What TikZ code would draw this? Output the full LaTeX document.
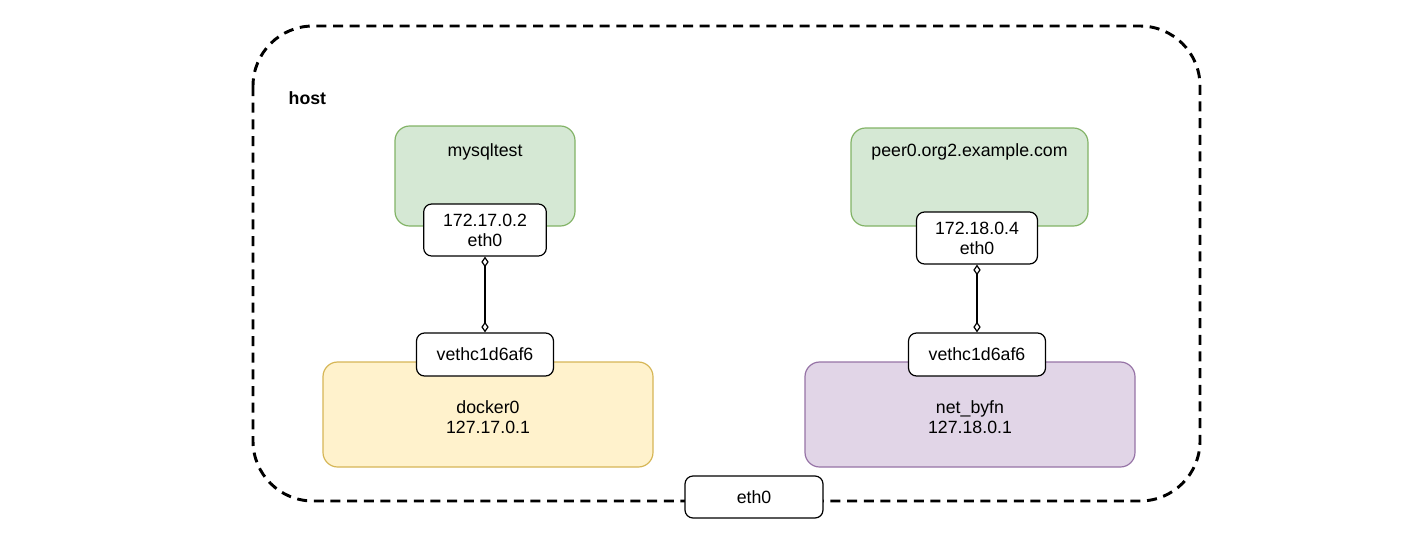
\documentclass[tikz,border=0pt]{standalone}
\usepackage{fontspec}
\setmainfont{Liberation Sans}
\usetikzlibrary{arrows.meta,positioning}
\definecolor{ctgreen}{HTML}{D5E8D4}
\definecolor{ctgreenline}{HTML}{82B366}
\definecolor{brgyellow}{HTML}{FFF2CC}
\definecolor{brgyellowline}{HTML}{D6B656}
\definecolor{brgpurple}{HTML}{E1D5E7}
\definecolor{brgpurpleline}{HTML}{9673A6}
\tikzset{
  container/.style={draw=ctgreenline, fill=ctgreen, rounded corners=11pt, line width=0.9pt},
  bridge/.style={rounded corners=11pt, line width=0.9pt, align=center, text depth=0pt},
  iface/.style={draw=black, fill=white, rounded corners=6pt, line width=0.9pt, align=center, inner sep=0pt},
  link/.style={line width=0.9pt, {Diamond[open,length=8pt,width=5.5pt]}-{Diamond[open,length=8pt,width=5.5pt]}}
}
\begin{document}
\begin{tikzpicture}[x=0.75pt, y=-0.75pt, font=\fontsize{13.3}{15}\selectfont]
			%%%%% host %%%%%
			\useasboundingbox (0, 0) rectangle (1410, 532);
			\draw[line width=2.2pt, dash pattern=on 7.5pt off 5pt, rounded corners=45pt] (253, 26) rectangle (1200, 501);
			\node[font=\fontsize{13.3}{15}\selectfont\bfseries, anchor=west] (host) at (284, 98) {host};
			
			%%%%% left side %%%%%
			\node[container, minimum width=135pt, minimum height=75pt] (mysqltest) at (485, 176) {};
			\node (mysqlname) at (485, 152) {mysqltest};
			\node[iface, minimum width=92pt, minimum height=39pt] (ipleft) at (485, 230) {172.17.0.2\\eth0};
			
			\node[bridge, draw=brgyellowline, fill=brgyellow, minimum width=247.5pt, minimum height=78.75pt] (docker) at (488, 414.5) {};
			\node[align=center] (dockername) at (488, 417) {docker0\\127.17.0.1};
			\node[iface, minimum width=102.75pt, minimum height=32.25pt] (vethleft) at (485, 354.5) {vethc1d6af6};
			
			\draw[link] (ipleft) -- (vethleft);
			
			%%%%% right side %%%%%
			\node[container, minimum width=177.75pt, minimum height=73.5pt] (peer) at (969.5, 177) {};
			\node (peername) at (969.5, 152) {peer0.org2.example.com};
			\node[iface, minimum width=90.75pt, minimum height=39pt] (ipright) at (977, 238) {172.18.0.4\\eth0};
			
			\node[bridge, draw=brgpurpleline, fill=brgpurple, minimum width=247.5pt, minimum height=78.75pt] (netbyfn) at (970, 414.5) {};
			\node[align=center] (netbyfnname) at (970, 417) {net\_byfn\\127.18.0.1};
			\node[iface, minimum width=102.75pt, minimum height=32.25pt] (vethright) at (977, 354.5) {vethc1d6af6};
			
			\draw[link] (ipright) -- (vethright);
			
			%%%%% uplink %%%%%
			\node[iface, minimum width=103.5pt, minimum height=31.5pt] (ethhost) at (754, 497) {eth0};
			
			%%%%% END %%%%%
		\end{tikzpicture}
\end{document}
